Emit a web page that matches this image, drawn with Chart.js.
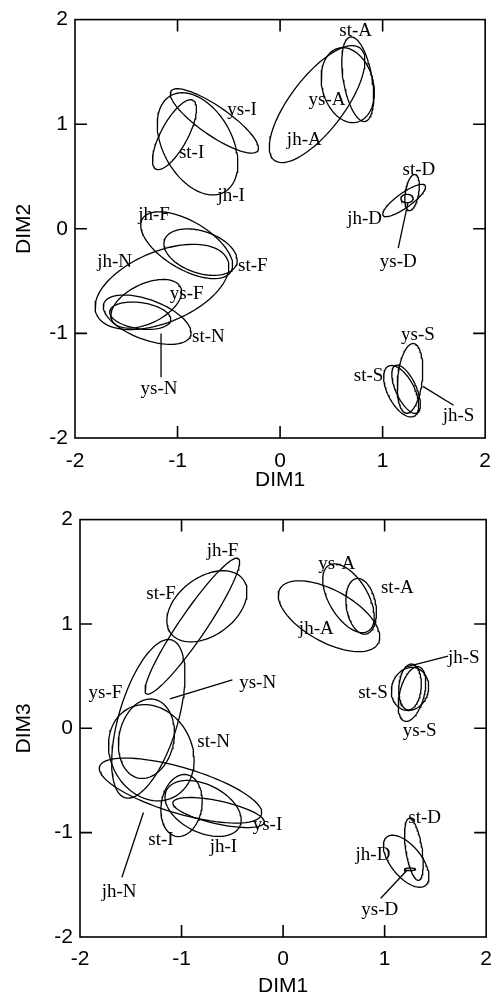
<!DOCTYPE html>
<html>
<head>
<meta charset="utf-8">
<script src="https://cdn.jsdelivr.net/npm/chart.js@4.4.1/dist/chart.umd.min.js"></script>
<style>
  body { margin: 0; background: #fff; }
  .panel { position: absolute; left: 0; }
</style>
</head>
<body>
<div class="panel" style="top:0"><canvas id="top" width="502" height="500"></canvas></div>
<div class="panel" style="top:500px"><canvas id="bottom" width="502" height="499"></canvas></div>
<script>
// axis range and the inner tick marks
const tickValues = [-2, -1, 0, 1, 2];
const innerTicks = [-1, 0, 1];

// DIM1 x DIM2: ellipse centre, semi axes and tilt (deg)
const names1 = ['st-A', 'ys-A', 'jh-A', 'st-I', 'ys-I', 'jh-I', 'st-F', 'jh-F', 'ys-F', 'jh-N', 'st-N', 'ys-N', 'st-D', 'jh-D', 'ys-D', 'ys-S', 'st-S', 'jh-S'];
const cx1 = [0.757, 0.66, 0.361, -1.03, -0.641, -0.805, -0.776, -0.911, -1.306, -1.152, -1.296, -1.364, 1.287, 1.21, 1.238, 1.267, 1.181, 1.229];
const cy1 = [1.43, 1.373, 1.192, 0.90, 1.031, 0.812, -0.223, -0.157, -0.717, -0.556, -0.869, -0.831, 0.347, 0.271, 0.29, -1.43, -1.553, -1.534];
const semiA1 = [0.41, 0.365, 0.68, 0.375, 0.51, 0.53, 0.37, 0.5, 0.37, 0.69, 0.45, 0.3, 0.175, 0.25, 0.06, 0.335, 0.27, 0.25];
const semiB1 = [0.14, 0.25, 0.26, 0.13, 0.14, 0.335, 0.2, 0.23, 0.19, 0.34, 0.19, 0.125, 0.065, 0.07, 0.04, 0.12, 0.13, 0.10];
const tilt1 = [100, 105, 52, 61, -34, -60, -18, -30, 25, 22, -20, -8, 80, 35, 0, 84, -62, -65];
// where each name sits
const labelX1 = [0.737, 0.458, 0.236, -0.863, -0.371, -0.477, -0.265, -1.229, -0.911, -1.614, -0.699, -1.181, 1.354, 0.824, 1.152, 1.345, 0.863, 1.74];
const labelY1 = [1.895, 1.23, 0.85, 0.727, 1.135, 0.318, -0.356, 0.128, -0.622, -0.318, -1.031, -1.534, 0.565, 0.09, -0.318, -1.012, -1.411, -1.791];
// leader lines [x0, y0, x1, y1]
const leaders1 = [
  [1.152, -0.185, 1.248, 0.252],
  [-1.161, -1.002, -1.161, -1.42],
  [1.393, -1.506, 1.692, -1.687]
];

// DIM1 x DIM3
const names2 = ['jh-F', 'st-F', 'ys-F', 'ys-N', 'st-N', 'jh-N', 'st-I', 'jh-I', 'ys-I', 'ys-A', 'st-A', 'jh-A', 'jh-S', 'st-S', 'ys-S', 'st-D', 'jh-D', 'ys-D'];
const cx2 = [-0.894, -0.75, -1.327, -1.346, -1.298, -1.01, -1.0, -0.788, -0.635, 0.644, 0.769, 0.452, 1.25, 1.25, 1.269, 1.288, 1.212, 1.25];
const cy2 = [0.979, 1.169, 0.091, -0.1, -0.234, -0.597, -0.74, -0.768, -0.807, 1.246, 1.169, 1.074, 0.396, 0.377, 0.329, -1.16, -1.274, -1.351];
const semiA2 = [0.79, 0.44, 0.79, 0.385, 0.48, 0.83, 0.3, 0.4, 0.46, 0.37, 0.27, 0.55, 0.22, 0.21, 0.27, 0.3, 0.3, 0.055];
const semiB2 = [0.13, 0.28, 0.29, 0.27, 0.4, 0.22, 0.2, 0.23, 0.11, 0.19, 0.145, 0.25, 0.11, 0.18, 0.12, 0.08, 0.15, 0.012];
const tilt2 = [55, 35, 73, 78, -60, -16, 80, -25, -12, -58, 100, -28, 85, 70, 75, 99, -50, 0];
const labelX2 = [-0.596, -1.202, -1.75, -0.25, -0.683, -1.615, -1.202, -0.587, -0.154, 0.529, 1.125, 0.327, 1.779, 0.885, 1.346, 1.394, 0.885, 0.952];
const labelY2 = [1.695, 1.284, 0.339, 0.434, -0.129, -1.57, -1.074, -1.141, -0.931, 1.57, 1.341, 0.95, 0.673, 0.339, -0.024, -0.864, -1.217, -1.742];
const leaders2 = [
  [-1.115, 0.282, -0.5, 0.463],
  [-1.587, -1.427, -1.375, -0.807],
  [1.202, 0.587, 1.625, 0.692],
  [0.962, -1.628, 1.221, -1.36]
];

function outline(cx, cy, a, b, deg) {
  const t = deg * Math.PI / 180;
  const pts = [];
  for (let i = 0; i <= 90; i++) {
    const p = i / 90 * 2 * Math.PI;
    pts.push({
      x: cx + a * Math.cos(p) * Math.cos(t) - b * Math.sin(p) * Math.sin(t),
      y: cy + a * Math.cos(p) * Math.sin(t) + b * Math.sin(p) * Math.cos(t)
    });
  }
  return pts;
}

function lineSet(data) {
  return { data, showLine: true, pointRadius: 0, borderColor: '#000', borderWidth: 1.3, fill: false, tension: 0 };
}

// frame, inner ticks and the group names
const decor = {
  id: 'decor',
  afterDatasetsDraw(chart, args, opts) {
    const { ctx, chartArea: a, scales: { x, y } } = chart;
    ctx.save();
    ctx.strokeStyle = '#000';
    ctx.lineWidth = 1.6;
    ctx.strokeRect(a.left, a.top, a.right - a.left, a.bottom - a.top);
    ctx.beginPath();
    innerTicks.forEach(v => {
      const px = x.getPixelForValue(v), py = y.getPixelForValue(v);
      ctx.moveTo(px, a.bottom); ctx.lineTo(px, a.bottom - 12);
      ctx.moveTo(px, a.top); ctx.lineTo(px, a.top + 12);
      ctx.moveTo(a.left, py); ctx.lineTo(a.left + 12, py);
      ctx.moveTo(a.right, py); ctx.lineTo(a.right - 12, py);
    });
    ctx.stroke();
    ctx.fillStyle = '#000';
    ctx.font = '19px "Liberation Serif"';
    ctx.textAlign = 'center';
    ctx.textBaseline = 'middle';
    opts.names.forEach((n, i) => {
      ctx.fillText(n, x.getPixelForValue(opts.lx[i]), y.getPixelForValue(opts.ly[i]));
    });
    ctx.restore();
  }
};

function makeChart(id, g) {
  const datasets = g.names.map((n, i) => Object.assign(lineSet(outline(g.cx[i], g.cy[i], g.a[i], g.b[i], g.tilt[i])), { label: n }));
  g.leaders.forEach(l => datasets.push(lineSet([{ x: l[0], y: l[1] }, { x: l[2], y: l[3] }])));
  const tickFont = { family: 'Liberation Sans', size: 21 };
  const titleFont = { family: 'Liberation Sans', size: 21 };
  return new Chart(document.getElementById(id), {
    type: 'scatter',
    data: { datasets },
    options: {
      responsive: false,
      animation: false,
      layout: { padding: g.pad },
      plugins: {
        legend: { display: false },
        tooltip: { enabled: false },
        decor: { names: g.names, lx: g.lx, ly: g.ly }
      },
      scales: {
        x: {
          type: 'linear', min: tickValues[0], max: tickValues[tickValues.length - 1],
          afterBuildTicks: s => { s.ticks = tickValues.map(v => ({ value: v })); },
          ticks: { padding: g.xPad, font: tickFont, color: '#000', maxRotation: 0 },
          grid: { display: false, drawTicks: false },
          border: { display: false },
          title: { display: true, text: 'DIM1', font: titleFont, color: '#000', padding: { top: 0, bottom: g.titleBottom } },
          afterFit: s => { s.height = 62; }
        },
        y: {
          type: 'linear', min: tickValues[0], max: tickValues[tickValues.length - 1],
          afterBuildTicks: s => { s.ticks = tickValues.map(v => ({ value: v })); },
          ticks: { padding: 7, font: tickFont, color: '#000' },
          grid: { display: false, drawTicks: false },
          border: { display: false },
          title: { display: true, text: g.yTitle, font: titleFont, color: '#000', padding: { top: 12, bottom: 0 } },
          afterFit: s => { s.width = g.yWidth; }
        }
      }
    },
    plugins: [decor]
  });
}

makeChart('top', {
  names: names1, cx: cx1, cy: cy1, a: semiA1, b: semiB1, tilt: tilt1,
  lx: labelX1, ly: labelY1, leaders: leaders1,
  yTitle: 'DIM2', yWidth: 75, xPad: 11, titleBottom: 7,
  pad: { top: 16, right: 12, left: 0, bottom: 0 }
});

makeChart('bottom', {
  names: names2, cx: cx2, cy: cy2, a: semiA2, b: semiB2, tilt: tilt2,
  lx: labelX2, ly: labelY2, leaders: leaders2,
  yTitle: 'DIM3', yWidth: 80, xPad: 10, titleBottom: 0,
  pad: { top: 18, right: 6, left: 0, bottom: 0 }
});
</script>
</body>
</html>
